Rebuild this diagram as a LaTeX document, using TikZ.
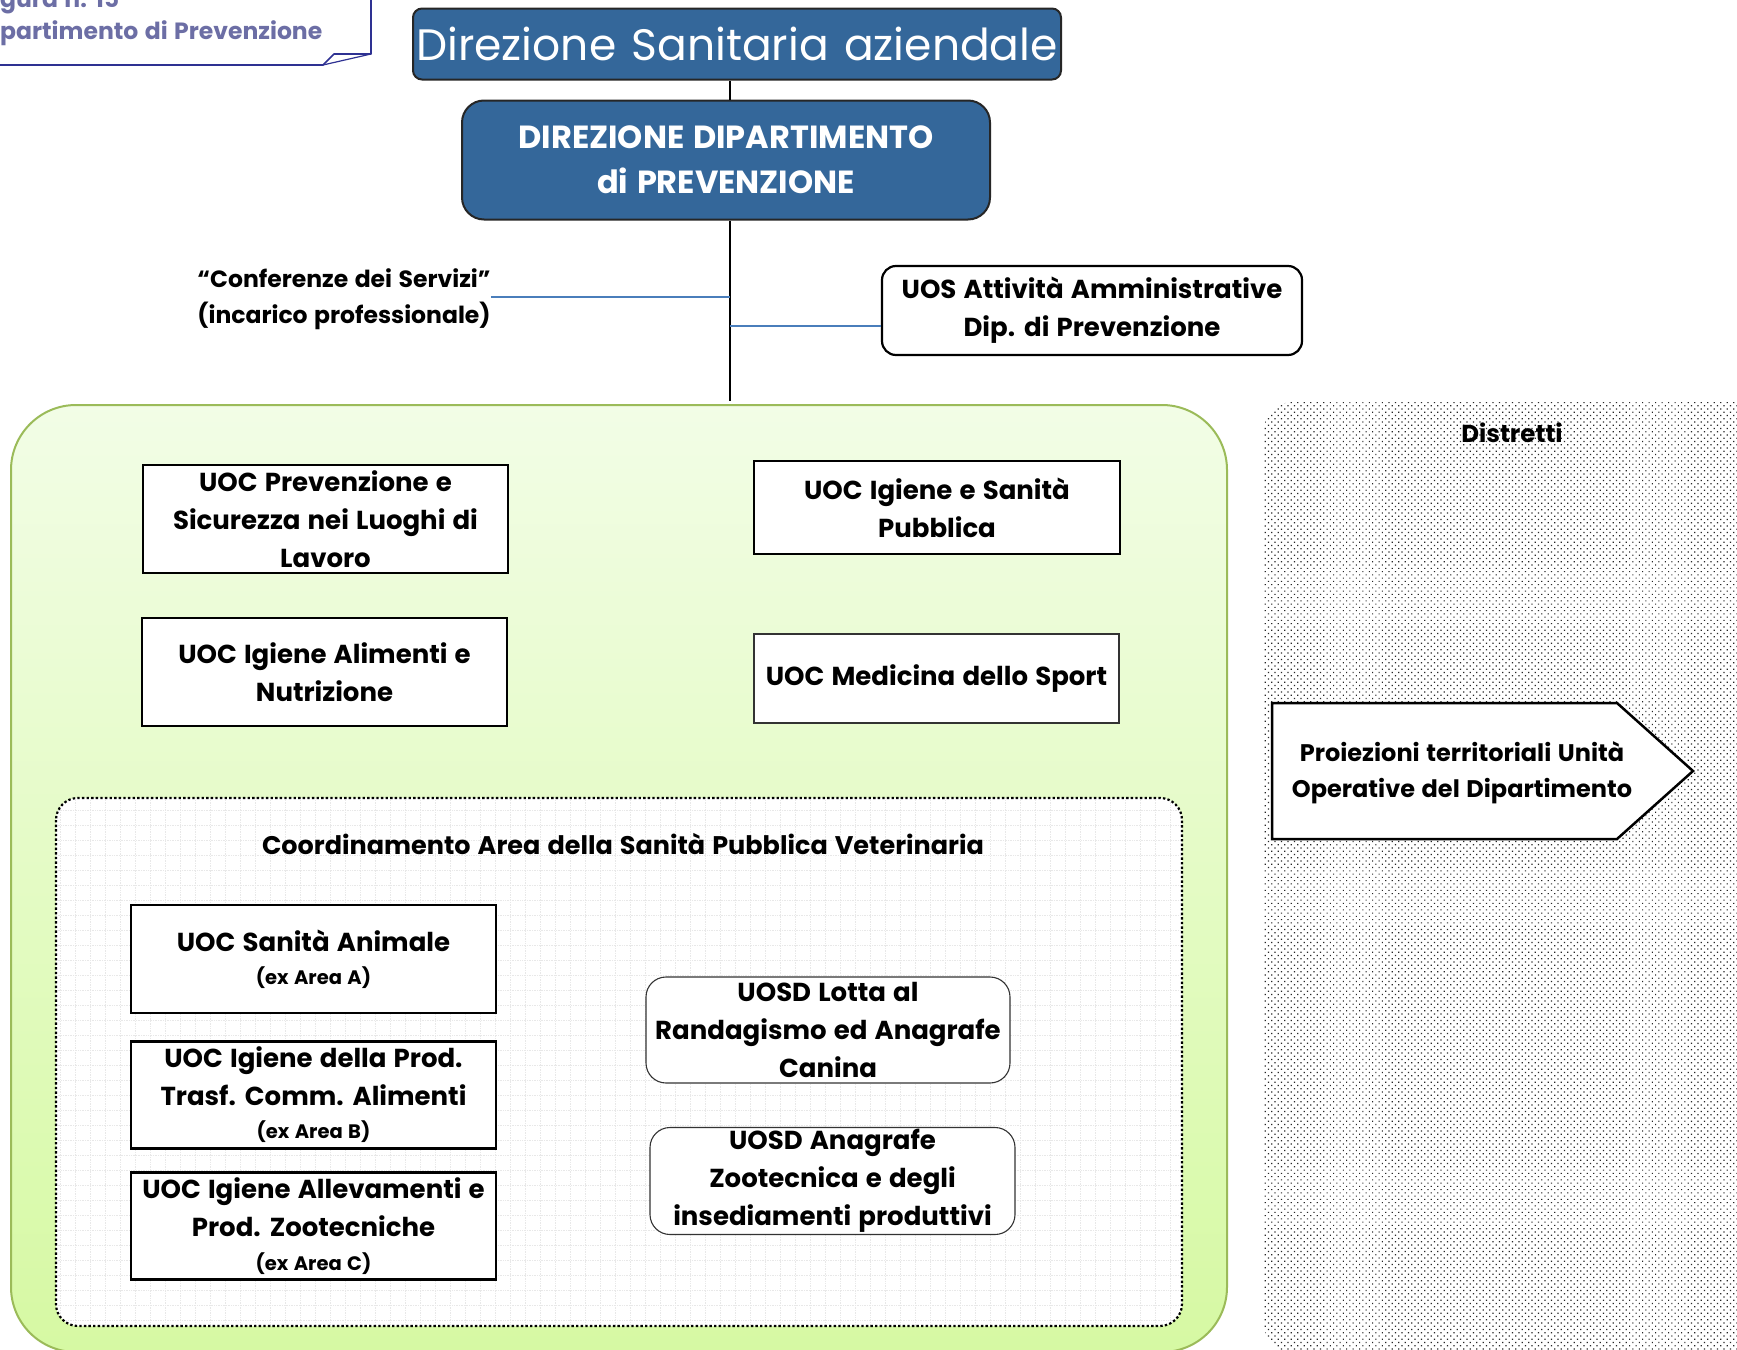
\documentclass[tikz,border=0pt]{standalone}
\usepackage{fontspec}
\setmainfont[WordSpace=1.3]{Poppins}
\usetikzlibrary{patterns.meta}
\definecolor{hdrblue}{RGB}{52,103,154}
\definecolor{connblue}{RGB}{74,126,187}
\definecolor{grnborder}{RGB}{155,187,89}
\definecolor{grntop}{RGB}{242,253,230}
\definecolor{grnbot}{RGB}{214,249,163}
\definecolor{lbltext}{RGB}{108,110,165}
\definecolor{lblline}{RGB}{46,49,146}
\begin{document}
\begin{tikzpicture}[x=1pt,y=-1pt,
  ubox/.style={draw=black, line width=2.2pt, fill=white, inner sep=0pt, align=center, font=\bfseries\fontsize{26}{38}\selectfont},
  thinbox/.style={ubox, line width=1.1pt, draw=black!80},
  roundbox/.style={thinbox, rounded corners=20pt},
  hdr/.style={draw=black!85, line width=2pt, fill=hdrblue, text=white, inner sep=0pt, align=center},
  plain/.style={inner sep=0pt, align=center, font=\bfseries\fontsize{24}{36}\selectfont},
  trunk/.style={draw=black, line width=2.6pt},
  blueline/.style={draw=connblue, line width=1.8pt}
]
\useasboundingbox (0,0) rectangle (1737,1349);
\clip (0,0) rectangle (1737,1349);
\fill[white] (0,0) rectangle (1737,1349);

% top-left label
\node[anchor=base west, inner sep=0pt, text=lbltext, font=\bfseries\fontsize{23.5}{26}\selectfont] (fig) at (0,7) {gura n. 15};
\node[anchor=base west, inner sep=0pt, text=lbltext, font=\bfseries\fontsize{23.5}{26}\selectfont] (dipl) at (0,39) {partimento di Prevenzione};
\draw[lblline, line width=1.6pt, line join=round] (-5,65) -- (323,65) -- (334,54) -- (371,54) -- (371,-5);
\draw[lblline, line width=1.2pt] (323,65) -- (371,54);

% header boxes
\node[hdr, minimum width=648pt, minimum height=71pt, rounded corners=9pt, font=\fontsize{44}{50}\selectfont] (dsa) at (737,44) {Direzione Sanitaria aziendale};
\node[hdr, minimum width=528pt, minimum height=119pt, rounded corners=22pt, font=\bfseries\fontsize{32}{45}\selectfont] (ddp) at (726,160) {DIREZIONE DIPARTIMENTO\\di PREVENZIONE};

\coordinate (trunkend) at (730,401);
\draw[trunk] (dsa.south -| trunkend) -- (ddp.north -| trunkend);
\draw[trunk] (ddp.south -| trunkend) -- (trunkend);

% staff
\node[plain, font=\bfseries\fontsize{23.5}{36}\selectfont] (conf) at (344,299) {“Conferenze dei Servizi”\\(incarico professionale)};
\node[ubox, rounded corners=14pt, minimum width=420pt, minimum height=89pt] (uos) at (1092,310.5) {UOS Attività Amministrative\\Dip. di Prevenzione};
\draw[blueline] ([yshift=2pt]conf.east) -- ([yshift=2pt]conf.east -| trunkend);
\draw[blueline] ([yshift=-15.5pt]uos.west) -- ([yshift=-15.5pt]uos.west -| trunkend);

% green department container
\path[draw=grnborder, line width=2pt, top color=grntop, bottom color=grnbot, rounded corners=65pt] (11,405) rectangle (1227,1352);

% veterinary area
\path[fill=white, rounded corners=22pt] (56,798) rectangle (1182,1326);
\begin{scope}
\clip[rounded corners=22pt] (56,798) rectangle (1182,1326);
\draw[black!9, densely dotted, line width=0.7pt] (56,798) grid[step=15pt] (1182,1326);
\end{scope}
\draw[black, line width=2.2pt, dash pattern=on 2.4pt off 2.2pt, rounded corners=22pt] (56,798) rectangle (1182,1326);
\node[plain, font=\bfseries\fontsize{25.5}{30}\selectfont] (coord) at (623,844) {Coordinamento Area della Sanità Pubblica Veterinaria};

% UOC boxes
\node[ubox, minimum width=365pt, minimum height=108pt] (prev) at (325.5,519) {UOC Prevenzione e\\Sicurezza nei Luoghi di\\Lavoro};
\node[ubox, minimum width=365pt, minimum height=108pt] (ian) at (324.5,672) {UOC Igiene Alimenti e\\Nutrizione};
\node[ubox, minimum width=366pt, minimum height=93pt] (isp) at (937,507.5) {UOC Igiene e Sanità\\Pubblica};
\node[thinbox, minimum width=365pt, minimum height=89pt] (msp) at (936.5,678.5) {UOC Medicina dello Sport};

\node[ubox, minimum width=365pt, minimum height=108pt] (san) at (313.5,959) {UOC Sanità Animale\\[-5pt]{\fontsize{19.5}{30}\selectfont (ex Area A)}};
\node[ubox, minimum width=365pt, minimum height=107pt] (ipt) at (313.5,1095) {UOC Igiene della Prod.\\Trasf. Comm. Alimenti\\[-5pt]{\fontsize{19.5}{30}\selectfont (ex Area B)}};
\node[ubox, minimum width=365pt, minimum height=107pt] (ial) at (313.5,1226) {UOC Igiene Allevamenti e\\Prod. Zootecniche\\[-4pt]{\fontsize{19.5}{30}\selectfont (ex Area C)}};

\node[roundbox, minimum width=364pt, minimum height=106pt] (lotta) at (828,1030) {UOSD Lotta al\\Randagismo ed Anagrafe\\Canina};
\node[roundbox, minimum width=365pt, minimum height=107pt] (anag) at (832.5,1181) {UOSD Anagrafe\\Zootecnica e degli\\insediamenti produttivi};

% districts
\path[pattern={Dots[distance=4.6pt, angle=45, radius=0.85pt]}, pattern color=black!85, rounded corners=28pt] (1264,402) rectangle (1790,1352);
\node[plain, font=\bfseries\fontsize{24.5}{28}\selectfont] (distr) at (1512,433) {Distretti};
\draw[line width=2.5pt, fill=white, line join=miter] (1272,703) -- (1617,703) -- (1693,771) -- (1617,839) -- (1272,839) -- cycle;
\node[plain, font=\bfseries\fontsize{24}{36}\selectfont] (proj) at (1462,773) {Proiezioni territoriali Unità\\Operative del Dipartimento};
\end{tikzpicture}
\end{document}
